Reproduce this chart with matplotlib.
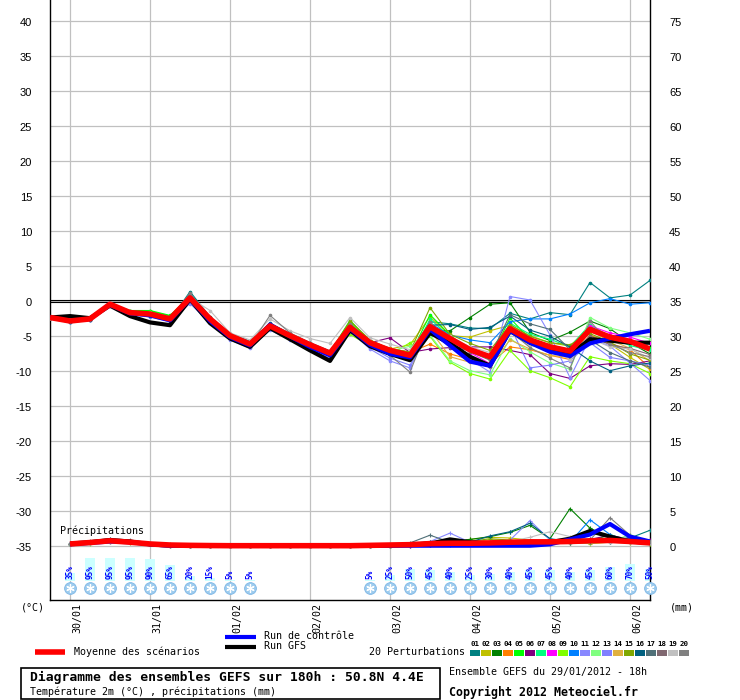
import matplotlib
matplotlib.use('Agg')
import matplotlib.pyplot as plt
from matplotlib.lines import Line2D
from matplotlib.patches import Rectangle
import matplotlib.transforms as mtransforms

W, H = 740, 700

# ---------------- data ----------------
hours = list(range(0, 181, 6))
prec_hours = list(range(6, 181, 6))
date_labels = ['30/01', '31/01', '01/02', '02/02', '03/02', '04/02', '05/02', '06/02']
date_hours = [6, 30, 54, 78, 102, 126, 150, 174]

temp_mean = [-2.4, -2.9, -2.6, -0.5, -1.7, -1.9, -2.6, 0.4, -2.6, -5.0, -6.2, -3.6, -5.0, -6.3, -7.5, -3.8,
             -6.0, -7.1, -7.8, -3.7, -5.4, -7.0, -8.0, -4.0, -5.6, -6.6, -7.2, -4.1, -5.2, -5.8, -6.9]
temp_control = [-2.4, -2.9, -2.6, -0.6, -1.8, -2.1, -2.8, 0.3, -2.9, -5.2, -6.4, -3.4, -5.1, -6.6, -7.8, -4.0,
                -6.3, -7.6, -8.1, -4.1, -6.4, -8.7, -9.3, -4.3, -6.0, -7.3, -7.9, -6.1, -5.4, -4.8, -4.3]
temp_gfs = [-2.4, -2.2, -2.5, -0.7, -2.2, -3.1, -3.5, 0.2, -3.2, -5.4, -6.6, -3.9, -5.5, -7.1, -8.6, -4.2,
            -6.5, -7.6, -8.5, -4.6, -6.1, -8.0, -9.3, -4.3, -6.0, -7.0, -7.7, -5.5, -5.7, -6.0, -6.0]

t01 = [-2.3, -3.0, -2.6, -0.6, -1.8, -2.1, -2.8, 1.3, -2.3, -4.7, -5.8, -3.3, -4.8, -6.1, -7.2, -3.3, -5.8, -6.8, -7.4, -3.0, -3.3, -3.9, -4.0, -1.8, -2.6, -1.7, -2.0, 2.6, 0.4, 0.8, 2.9]
t02 = [-2.4, -2.8, -2.5, -0.4, -1.6, -1.8, -2.5, 0.6, -2.7, -5.1, -6.3, -3.5, -4.9, -6.2, -7.3, -3.1, -5.7, -6.9, -6.3, -2.3, -5.0, -5.2, -4.3, -3.5, -5.0, -6.0, -6.5, -3.6, -6.2, -8.1, -9.8]
t03 = [-2.3, -2.9, -2.6, -0.6, -1.5, -1.5, -2.2, 0.5, -2.5, -4.9, -6.0, -3.6, -5.0, -6.3, -7.6, -3.5, -6.1, -7.3, -8.0, -4.3, -4.3, -2.4, -0.5, -0.3, -4.5, -5.7, -4.5, -2.9, -4.0, -6.0, -7.6]
t04 = [-2.4, -2.9, -2.7, -0.5, -1.8, -2.0, -2.6, 0.2, -2.8, -5.2, -6.4, -3.7, -5.1, -6.4, -7.6, -4.0, -5.9, -6.8, -7.4, -6.2, -7.6, -8.4, -8.9, -6.6, -7.0, -7.8, -8.4, -4.9, -6.1, -7.0, -9.6]
t05 = [-2.3, -2.8, -2.5, -0.4, -1.4, -1.4, -2.1, 0.6, -2.6, -5.0, -6.1, -3.5, -4.9, -6.2, -7.4, -2.8, -5.8, -7.0, -7.8, -2.0, -4.9, -7.2, -8.3, -2.5, -5.5, -6.3, -7.0, -3.7, -5.0, -5.6, -6.8]
t06 = [-2.4, -2.9, -2.6, -0.5, -1.7, -1.9, -2.5, 0.3, -2.8, -5.3, -6.5, -3.8, -5.2, -6.5, -7.7, -4.3, -6.0, -5.3, -7.4, -6.9, -6.7, -6.6, -6.6, -7.1, -7.7, -10.4, -11.1, -9.3, -9.0, -9.1, -8.6]
t07 = [-2.3, -2.8, -2.6, -0.5, -1.6, -1.7, -2.4, 0.7, -2.5, -4.8, -6.0, -3.4, -4.9, -6.2, -7.5, -3.2, -5.9, -7.2, -8.3, -2.6, -5.2, -7.3, -8.4, -3.2, -4.8, -5.5, -6.6, -3.4, -5.2, -6.4, -7.1]
t08 = [-2.4, -2.9, -2.6, -0.4, -1.7, -1.8, -2.5, 0.4, -2.4, -4.9, -6.0, -3.6, -5.0, -6.3, -7.5, -3.7, -6.0, -7.2, -8.1, -3.5, -5.6, -7.4, -9.0, -3.9, -5.8, -7.0, -7.6, -3.6, -4.6, -5.2, -6.1]
t09 = [-2.4, -2.9, -2.6, -0.6, -1.8, -2.0, -2.7, 0.1, -2.9, -5.3, -6.6, -3.9, -5.3, -6.6, -7.9, -4.8, -6.5, -7.7, -6.0, -5.1, -8.8, -10.4, -11.2, -7.1, -10.0, -11.0, -12.3, -8.0, -8.6, -9.0, -10.4]
t10 = [-2.4, -3.0, -2.7, -0.5, -1.8, -2.2, -2.9, 0.5, -2.7, -5.1, -6.3, -3.7, -5.1, -6.4, -7.7, -3.9, -6.3, -7.5, -8.3, -3.2, -4.9, -5.6, -6.0, -3.0, -2.6, -2.6, -1.9, -0.3, 0.3, -0.5, -0.3]
t11 = [-2.5, -3.1, -2.8, -0.7, -2.0, -2.3, -3.0, -0.4, -3.2, -5.6, -6.8, -4.2, -5.6, -6.9, -8.2, -4.4, -6.9, -8.6, -9.6, -3.9, -6.0, -8.4, -10.2, 0.6, 0.1, -4.9, -11.0, -5.3, -6.5, -8.9, -11.4]
t12 = [-2.3, -2.8, -2.5, -0.4, -1.5, -1.6, -2.3, 0.6, -2.6, -5.0, -6.2, -3.4, -4.9, -6.2, -7.4, -3.6, -5.9, -7.2, -6.5, -4.9, -8.6, -10.0, -10.6, -5.4, -7.3, -8.9, -9.8, -2.4, -3.9, -4.6, -5.5]
t13 = [-2.4, -3.0, -2.7, -0.6, -1.9, -2.2, -2.8, 0.0, -2.9, -5.4, -6.6, -4.0, -5.4, -6.7, -8.0, -4.3, -6.6, -8.2, -9.2, -4.6, -6.6, -8.6, -9.5, -3.6, -9.6, -9.2, -8.6, -6.0, -8.1, -8.6, -9.2]
t14 = [-2.4, -2.9, -2.6, -0.5, -1.7, -1.9, -2.6, 0.2, -2.7, -5.1, -6.3, -3.8, -5.2, -6.5, -7.7, -3.9, -5.7, -6.9, -7.6, -4.2, -8.0, -8.8, -9.3, -5.6, -6.9, -7.8, -8.1, -4.4, -5.6, -6.8, -8.6]
t15 = [-2.4, -2.9, -2.6, -0.5, -1.6, -1.8, -2.5, 0.6, -2.5, -5.0, -6.2, -3.5, -4.9, -6.2, -7.4, -2.9, -5.6, -6.9, -7.3, -1.0, -4.8, -6.1, -7.1, -3.4, -5.1, -6.0, -6.3, -4.7, -5.9, -7.6, -8.5]
t16 = [-2.4, -3.0, -2.7, -0.5, -1.9, -2.2, -2.9, 1.0, -2.4, -4.8, -5.9, -3.2, -4.7, -6.0, -7.2, -3.4, -6.1, -7.0, -7.7, -3.5, -3.4, -4.1, -3.8, -2.2, -4.2, -5.1, -6.6, -8.6, -10.0, -9.3, -8.9]
t17 = [-2.4, -2.9, -2.6, -0.5, -1.8, -2.0, -2.6, 0.8, -2.5, -4.9, -6.1, -3.3, -4.8, -6.1, -7.3, -3.5, -6.0, -7.2, -7.9, -3.6, -6.6, -7.1, -8.0, -2.0, -3.3, -4.1, -7.0, -5.6, -7.4, -8.6, -9.5]
t18 = [-2.4, -2.9, -2.6, -0.5, -1.7, -1.9, -2.6, 0.5, -2.6, -5.0, -6.2, -3.6, -5.0, -6.3, -7.5, -3.7, -6.2, -7.3, -8.2, -4.0, -5.8, -7.3, -8.5, -4.3, -6.1, -7.2, -8.0, -5.0, -6.3, -6.8, -7.7]
t19 = [-2.4, -2.9, -2.6, -0.5, -1.8, -1.9, -2.5, 0.4, -1.4, -4.6, -5.6, -2.6, -4.3, -5.4, -6.1, -2.4, -5.3, -6.2, -7.0, -3.4, -5.1, -6.6, -7.4, -4.6, -6.5, -6.3, -8.5, -5.4, -6.6, -6.9, -8.2]
t20 = [-2.4, -2.9, -2.6, -0.5, -1.8, -2.0, -2.7, 1.1, -2.6, -5.2, -6.4, -2.1, -4.6, -6.0, -7.9, -3.3, -6.4, -7.8, -10.2, -3.0, -6.2, -8.0, -9.4, -4.3, -6.7, -8.2, -9.6, -2.9, -6.2, -7.4, -8.0]

# precipitation (mm per 6 h), from +6h to +180h
prec_mean = [0.25, 0.45, 0.7, 0.5, 0.25, 0.1, 0.05, 0.02, 0, 0, 0, 0, 0, 0, 0,
             0.05, 0.1, 0.15, 0.3, 0.35, 0.35, 0.4, 0.5, 0.55, 0.55, 0.6, 0.7, 0.75, 0.6, 0.4]
prec_control = [0.2, 0.4, 0.6, 0.5, 0.2, 0, 0, 0, 0, 0, 0, 0, 0, 0, 0,
                0, 0, 0, 0, 0, 0, 0, 0, 0, 0.2, 0.9, 1.6, 3.1, 1.3, 0.6]
prec_gfs = [0.3, 0.5, 0.8, 0.6, 0.2, 0, 0, 0, 0, 0, 0, 0, 0, 0, 0,
            0, 0, 0.1, 0.3, 0.9, 0.5, 0.3, 0.3, 0.4, 0.5, 1.0, 2.1, 1.3, 0.6, 0.4]

p01 = [0.2, 0.5, 0.7, 0.6, 0.3, 0.1, 0, 0, 0, 0, 0, 0, 0, 0, 0, 0, 0, 0.1, 0.2, 0.3, 0.3, 0.4, 0.5, 0.6, 0.5, 0.6, 0.8, 0.7, 1.1, 2.2]
p02 = [0.3, 0.4, 0.6, 0.5, 0.2, 0, 0, 0, 0, 0, 0, 0, 0, 0, 0, 0, 0, 0.1, 0.3, 0.6, 0.9, 1.2, 1.1, 0.8, 0.6, 0.4, 0.3, 0.5, 0.4, 0.3]
p03 = [0.2, 0.5, 0.8, 0.5, 0.3, 0.1, 0, 0, 0, 0, 0, 0, 0, 0, 0, 0, 0.1, 0.2, 0.4, 0.6, 0.9, 1.3, 1.9, 2.9, 1.0, 5.3, 2.5, 1.2, 0.8, 0.3]
p04 = [0.2, 0.4, 0.6, 0.4, 0.2, 0.1, 0.1, 0, 0, 0, 0, 0, 0, 0, 0, 0, 0, 0, 0.1, 0.2, 0.3, 0.4, 0.5, 0.6, 0.4, 0.6, 0.8, 0.9, 0.7, 0.5]
p05 = [0.3, 0.5, 0.7, 0.6, 0.3, 0.1, 0, 0, 0, 0, 0, 0, 0, 0, 0, 0, 0, 0.1, 0.2, 0.3, 0.3, 0.5, 0.6, 0.4, 0.3, 0.5, 0.6, 1.6, 0.6, 0.4]
p06 = [0.2, 0.4, 0.8, 0.5, 0.2, 0, 0, 0, 0, 0, 0, 0, 0, 0, 0, 0, 0, 0, 0.1, 0.2, 0.2, 0.3, 0.4, 0.5, 0.4, 0.6, 0.9, 1.5, 0.9, 0.8]
p07 = [0.2, 0.5, 0.7, 0.5, 0.3, 0.1, 0, 0, 0, 0, 0, 0, 0, 0, 0, 0, 0, 0.1, 0.2, 0.3, 0.4, 0.5, 0.6, 0.7, 0.5, 0.4, 0.6, 0.8, 0.6, 0.5]
p08 = [0.3, 0.4, 0.6, 0.6, 0.2, 0, 0, 0, 0, 0, 0, 0, 0, 0, 0, 0, 0, 0, 0.1, 0.2, 0.2, 0.3, 0.4, 0.3, 0.3, 0.5, 0.5, 0.7, 0.8, 0.6]
p09 = [0.2, 0.3, 0.6, 0.4, 0.2, 0.1, 0, 0, 0, 0, 0, 0, 0, 0, 0, 0, 0, 0.1, 0.3, 0.8, 0.4, 0.5, 0.6, 0.7, 0.6, 0.5, 0.6, 0.7, 0.5, 0.4]
p10 = [0.2, 0.4, 0.7, 0.5, 0.2, 0, 0, 0, 0, 0, 0, 0, 0, 0, 0, 0, 0, 0, 0.1, 0.1, 0.2, 0.3, 0.4, 0.5, 0.4, 0.5, 3.7, 1.6, 0.5, 0.4]
p11 = [0.2, 0.5, 0.8, 0.6, 0.3, 0.1, 0, 0, 0, 0, 0, 0, 0, 0, 0, 0, 0, 0.1, 0.6, 1.8, 0.5, 0.3, 0.8, 3.6, 0.8, 0.5, 0.4, 0.6, 0.5, 0.4]
p12 = [0.3, 0.5, 0.7, 0.5, 0.2, 0.1, 0, 0, 0, 0, 0, 0, 0, 0, 0, 0, 0, 0.1, 0.2, 0.3, 0.4, 0.3, 0.4, 0.5, 0.6, 0.5, 0.4, 0.5, 1.6, 0.5]
p13 = [0.2, 0.4, 0.6, 0.5, 0.2, 0, 0, 0, 0, 0, 0, 0, 0, 0, 0, 0, 0, 0, 0.1, 0.2, 0.3, 0.3, 0.4, 0.4, 0.3, 0.4, 0.5, 0.6, 0.5, 0.4]
p14 = [0.2, 0.5, 0.7, 0.5, 0.3, 0.2, 0.1, 0, 0, 0, 0, 0, 0, 0, 0, 0, 0, 0.1, 0.2, 0.3, 0.4, 0.9, 0.7, 0.5, 0.4, 0.6, 0.7, 0.9, 0.6, 0.4]
p15 = [0.3, 0.5, 0.8, 0.6, 0.2, 0, 0, 0, 0, 0, 0, 0, 0, 0, 0, 0, 0, 0.1, 0.3, 0.5, 0.6, 1.0, 0.8, 0.6, 0.5, 0.4, 0.5, 0.8, 0.6, 0.3]
p16 = [0.2, 0.6, 0.9, 0.7, 0.3, 0.1, 0, 0, 0, 0, 0, 0, 0, 0, 0, 0, 0.1, 0.3, 0.6, 0.5, 0.5, 1.4, 2.0, 3.2, 1.0, 0.6, 0.8, 0.6, 1.2, 0.6]
p17 = [0.3, 0.6, 1.0, 0.7, 0.3, 0.1, 0, 0, 0, 0, 0, 0, 0, 0, 0, 0, 0.1, 0.4, 1.5, 0.5, 0.4, 0.3, 0.4, 0.5, 0.6, 0.4, 0.5, 0.6, 0.5, 0.4]
p18 = [0.2, 0.5, 0.8, 0.5, 0.2, 0, 0, 0, 0, 0, 0, 0, 0, 0, 0, 0, 0, 0.1, 0.2, 0.3, 0.2, 0.3, 0.4, 0.5, 0.6, 0.7, 0.9, 1.0, 0.7, 0.5]
p19 = [0.2, 0.4, 0.6, 0.4, 0.2, 0, 0, 0, 0, 0, 0, 0, 0, 0, 0, 0, 0, 0.1, 0.2, 0.3, 0.4, 0.5, 0.6, 1.2, 2.0, 1.3, 0.8, 0.6, 0.5, 0.4]
p20 = [0.3, 0.7, 1.0, 0.8, 0.3, 0.1, 0, 0, 0, 0, 0, 0, 0, 0, 0, 0, 0, 0, 0.1, 0.2, 0.3, 0.4, 0.5, 0.6, 0.5, 0.6, 0.8, 4.0, 1.5, 0.5]

member_names = ['01', '02', '03', '04', '05', '06', '07', '08', '09', '10',
                '11', '12', '13', '14', '15', '16', '17', '18', '19', '20']
member_colors = ['#008080', '#c0c000', '#008000', '#ff8000', '#00ff00', '#800080', '#00ff80',
                 '#ff00ff', '#80ff00', '#0080ff', '#8888ff', '#80ff80', '#8080ff', '#e0b040',
                 '#80a800', '#006080', '#507078', '#806870', '#c0c0c0', '#808080']

snow_hours = [6, 12, 18, 24, 30, 36, 42, 48, 54, 60,
              96, 102, 108, 114, 120, 126, 132, 138, 144, 150, 156, 162, 168, 174, 180]
snow_pct = [35, 95, 95, 95, 90, 65, 20, 15, 5, 5,
            5, 25, 50, 45, 40, 25, 30, 40, 45, 45, 40, 45, 60, 70, 50]

left_ticks = list(range(-35, 41, 5))

# ---------------- figure ----------------
plt.rcParams['font.family'] = ['DejaVu Sans Mono']
fig = plt.figure(figsize=(W / 100, H / 100), dpi=100)
fig.patch.set_facecolor('white')

def fx(px):
    return px / W

def fy(py):
    return 1 - py / H

ax = fig.add_axes([fx(50), fy(600), 600 / W, 600 / H])
ax.set_xlim(0, 180)
ax.set_ylim((300.7 - 600) / 7.0, 300.7 / 7.0)
ax.set_xticks([])
ax.set_yticks([])
ax.spines['top'].set_visible(False)
for s in ['left', 'right', 'bottom']:
    ax.spines[s].set_linewidth(1.0)
    ax.spines[s].set_color('black')

# grid
for v in left_ticks:
    ax.axhline(v, color='#c0c0c0', lw=0.9, zorder=1)
for h in date_hours:
    ax.axvline(h, color='#c0c0c0', lw=0.9, zorder=1)
ax.axhline(0.17, color='black', lw=0.8, zorder=2)
ax.axhline(-0.17, color='black', lw=0.8, zorder=2)

# tick labels
tl = mtransforms.blended_transform_factory(ax.transAxes, ax.transData)
for v in left_ticks:
    ax.text(-0.03, v - 0.3, str(v), transform=tl, ha='right', va='center',
            fontsize=8, family='Liberation Sans')
    ax.text(1.032, v - 0.3, str(v + 35), transform=tl, ha='left', va='center',
            fontsize=8, family='Liberation Sans')

# date labels
for h, lab in zip(date_hours, date_labels):
    ax.text(h + 2.1, -43.2, lab, rotation=90, ha='center', va='top', fontsize=7.2)

members_t = [t01, t02, t03, t04, t05, t06, t07, t08, t09, t10,
             t11, t12, t13, t14, t15, t16, t17, t18, t19, t20]
members_p = [p01, p02, p03, p04, p05, p06, p07, p08, p09, p10,
             p11, p12, p13, p14, p15, p16, p17, p18, p19, p20]
P0 = -35.0  # left-axis value of 0 mm (right axis = left + 35)
for t, p, c in zip(members_t, members_p, member_colors):
    ax.plot(hours, t, color=c, lw=0.8, marker='o', ms=1.6, zorder=3)
    ax.plot(prec_hours, [P0 + v for v in p], color=c, lw=0.8, marker='+', ms=3.5, mew=0.8, zorder=3)

ax.plot(hours, temp_gfs, color='black', lw=3.0, zorder=4, solid_capstyle='butt')
ax.plot(hours, temp_control, color='#0000ff', lw=3.0, zorder=5, solid_capstyle='butt')
ax.plot(hours, temp_mean, color='#ff0000', lw=4.0, zorder=6, solid_capstyle='butt')
ax.plot(prec_hours, [P0 + v for v in prec_gfs], color='black', lw=3.0, zorder=4, solid_capstyle='butt')
ax.plot(prec_hours, [P0 + v for v in prec_control], color='#0000ff', lw=3.0, zorder=5, solid_capstyle='butt')
ax.plot(prec_hours, [P0 + v for v in prec_mean], color='#ff0000', lw=4.0, zorder=6, solid_capstyle='butt')

# snow probability bars + icons
bar_base = -40.09
ax.bar(snow_hours, [pc * 0.035 for pc in snow_pct], bottom=bar_base, width=3.0,
       color='#ccffff', zorder=2)
for h, pc in zip(snow_hours, snow_pct):
    ax.text(h, -39.8, f'{pc}%', rotation=90, ha='center', va='bottom', color='#0000ff',
            fontsize=5.5, fontweight='bold', zorder=7)
ax.plot(snow_hours, [-41.05] * len(snow_hours), 'o', ms=8.5, color='#9ccbee',
        mec='#80b8e6', mew=0.6, zorder=7, clip_on=False)
ax.plot(snow_hours, [-41.05] * len(snow_hours), marker=(6, 2, 0), ls='none', ms=6,
        color='white', mew=0.9, zorder=8, clip_on=False)

ax.text(3.0, (300.7 - 531) / 7.0, 'Précipitations', ha='left', va='center', fontsize=7.2, zorder=7)

# axis unit labels
fig.text(fx(21), fy(607), '(°C)', ha='left', va='center', fontsize=7.2)
fig.text(fx(670), fy(607), '(mm)', ha='left', va='center', fontsize=7.2)

# legend
fig.add_artist(Line2D([fx(35), fx(65)], [fy(652), fy(652)], color='#ff0000', lw=4,
                      transform=fig.transFigure, solid_capstyle='butt'))
fig.text(fx(74), fy(652), 'Moyenne des scénarios', ha='left', va='center', fontsize=7.2)
fig.add_artist(Line2D([fx(225), fx(256)], [fy(637), fy(637)], color='#0000ff', lw=3,
                      transform=fig.transFigure, solid_capstyle='butt'))
fig.text(fx(264), fy(636), 'Run de contrôle', ha='left', va='center', fontsize=7.2)
fig.add_artist(Line2D([fx(225), fx(256)], [fy(646.5), fy(646.5)], color='black', lw=3,
                      transform=fig.transFigure, solid_capstyle='butt'))
fig.text(fx(264), fy(646), 'Run GFS', ha='left', va='center', fontsize=7.2)
fig.text(fx(369), fy(652), '20 Perturbations', ha='left', va='center', fontsize=7.2)
for k, (nm, c) in enumerate(zip(member_names, member_colors)):
    x0 = 470 + 11 * k
    fig.add_artist(Rectangle((fx(x0), fy(656)), 10 / W, 6.5 / H, facecolor=c, edgecolor='none',
                             transform=fig.transFigure))
    fig.text(fx(x0 + 5), fy(644), nm, ha='center', va='center', fontsize=5.3, fontweight='bold')

# title box
fig.add_artist(Rectangle((fx(20.5), fy(699)), 419.5 / W, 31.5 / H, facecolor='white',
                         edgecolor='black', lw=1.2, transform=fig.transFigure))
fig.text(fx(30), fy(677), 'Diagramme des ensembles GEFS sur 180h : 50.8N 4.4E',
         ha='left', va='center', fontsize=9.4, fontweight='bold')
fig.text(fx(30), fy(692), 'Température 2m (°C) , précipitations (mm)',
         ha='left', va='center', fontsize=7.2)
fig.text(fx(449), fy(672), 'Ensemble GEFS du 29/01/2012 - 18h', ha='left', va='center', fontsize=7.2)
fig.text(fx(449), fy(692), 'Copyright 2012 Meteociel.fr', ha='left', va='center',
         fontsize=8.4, fontweight='bold')

fig.savefig('out.png', dpi=100)
